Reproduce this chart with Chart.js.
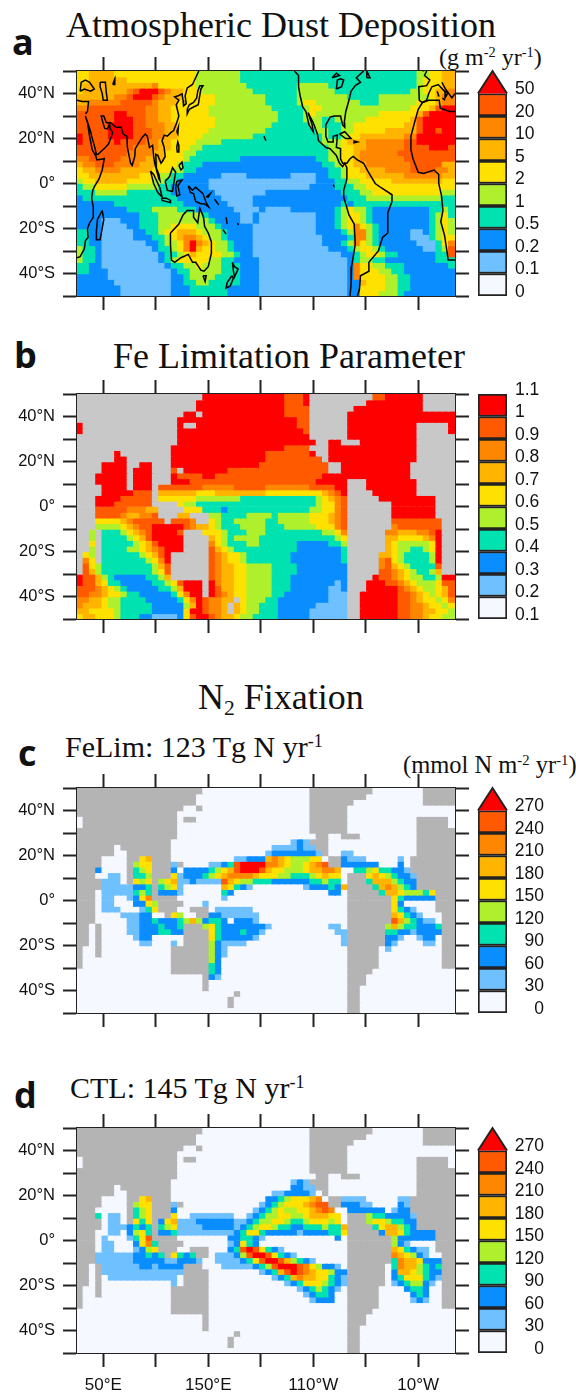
<!DOCTYPE html>
<html><head><meta charset="utf-8">
<style>
html,body{margin:0;padding:0;background:#fff;width:576px;height:1393px;overflow:hidden;position:relative}
canvas{position:absolute;display:block;filter:blur(.5px)}
.t{position:absolute;white-space:nowrap;line-height:1;font-family:"Liberation Serif",serif;color:#111}
.t sup{font-size:.6em;line-height:0;vertical-align:.55em}
.t sub{font-size:.6em;line-height:0;vertical-align:-.3em}
.p{position:absolute;line-height:1;font-family:"Open Sans",sans-serif;font-weight:700;color:#111}
</style>
<script src="https://cdn.jsdelivr.net/npm/chart.js@4/dist/chart.umd.min.js"></script>
</head><body>
<div class="p" style="left:12px;top:24px;font-size:36px">a</div>
<div class="t" style="left:66px;top:7px;font-size:36px">Atmospheric Dust Deposition</div>
<div class="t" style="left:439px;top:45px;font-size:24px">(g m<sup>-2</sup> yr<sup>-1</sup>)</div>
<div class="p" style="left:14px;top:337px;font-size:36px">b</div>
<div class="t" style="left:113px;top:338px;font-size:36px">Fe Limitation Parameter</div>
<div class="t" style="left:198px;top:679px;font-size:36px">N<sub>2</sub> Fixation</div>
<div class="p" style="left:18px;top:735px;font-size:36px">c</div>
<div class="t" style="left:65px;top:732px;font-size:30px">FeLim: 123 Tg N yr<sup>-1</sup></div>
<div class="t" style="left:403px;top:753px;font-size:24.5px">(mmol N m<sup>-2</sup> yr<sup>-1</sup>)</div>
<div class="p" style="left:14px;top:1077px;font-size:36px">d</div>
<div class="t" style="left:70px;top:1073px;font-size:30px">CTL: 145 Tg N yr<sup>-1</sup></div>

<canvas id="mapA" width="576" height="305" style="left:0;top:31px"></canvas>
<canvas id="mapB" width="576" height="305" style="left:0;top:354px"></canvas>
<canvas id="mapC" width="576" height="305" style="left:0;top:748px"></canvas>
<canvas id="mapD" width="576" height="305" style="left:0;top:1088px"></canvas>
<canvas id="barA" width="106" height="255" style="left:470px;top:51px"></canvas>
<canvas id="barB" width="106" height="255" style="left:470px;top:374px"></canvas>
<canvas id="barC" width="106" height="255" style="left:470px;top:768px"></canvas>
<canvas id="barD" width="106" height="255" style="left:470px;top:1108px"></canvas>
<script>
const levelColors=['#f5f8ff','#6ec0ff','#0a8eff','#00e2b0','#aef02c','#ffe100','#ffb400','#ff8700','#ff5a00','#ff0000'];
const landB='#c8c8c8', landN='#b4b4b4';
const lonTicks=[50,100,150,200,250,300,350];
const lonLabels={50:'50°E',150:'150°E',250:'110°W',350:'10°W'};
const latTicks=[-50,-40,-30,-20,-10,0,10,20,30,40,50];
const latLabels={40:'40°N',20:'20°N',0:'0°','-20':'20°S','-40':'40°S'};
const dustLabels=['0','0.1','0.2','0.5','1','2','5','10','20','50'];
const feLabels=['0.1','0.2','0.3','0.4','0.5','0.6','0.7','0.8','0.9','1','1.1'];
const fixLabels=['0','30','60','90','120','150','180','210','240','270'];

// class per grid cell (6 deg lon x 2.5 deg lat), north to south, starting 25E
const dustRows=[
"5566665555 5555555554 4444443333 3333333333 3333333333 3333445566",
"5566666655 5555555554 4444443333 3333333333 3333333333 3333455566",
"5666666666 6675555554 4444444333 3333344444 3333333333 3333455566",
"5666666678 9998766555 4444444433 3333344444 4333333333 3334455667",
"6666667789 9987666555 5544444444 3333344444 4443333344 4444445677",
"6677777888 8876665555 5544444444 3333345544 4444433344 4444555677",
"7788888888 8776655555 5444444444 4333334554 4444444444 4445556899",
"8888889988 8776655555 5444444444 4433334544 4444444455 5555689999",
"8888889998 8776655555 5544444444 4433334443 3444445555 5556899999",
"8888899998 8777665555 5544444444 4333333443 3344555555 5566899999",
"8888899998 8877665555 5444444444 3333333344 3344555556 6666899899",
"9888899998 8877665555 4444444433 3333333334 3345566666 6677999999",
"9888889888 8776655554 4443333333 3333333334 4456667777 7788999999",
"8888888887 7776655544 3333333333 3333333333 4455667777 7788889998",
"8888888877 7766555443 3333333333 3333333333 4455677777 7888888888",
"7788888777 7666555433 3333332222 2222222233 4455677777 7788888888",
"6778887777 6665554333 2222222222 2222222223 3455667777 7778888866",
"5667777666 6655544332 2222222222 2222222222 3345566667 7778888776",
"5566666666 5554433222 2221111222 2222111122 3345556666 6677777766",
"4556666655 5544332222 2111111111 1111111122 2334455555 6666666655",
"3445555544 4443322222 2111111111 1111111222 2333445555 5555555555",
"3334444433 3333322222 2211111111 2222222222 2233344555 5555555544",
"2333333333 3333332222 2221111122 2222222222 2223334444 4444444433",
"2222223333 3333333222 2222111122 2222222222 2232333333 3333333333",
"2222222233 3344443332 2222211112 1111222222 2345443222 2222223343",
"2222222222 3334444444 3222221121 1111111122 2345543222 2222223453",
"2222111222 3334444444 4322221121 1111111122 2345543222 2222223454",
"2222111122 3334455554 4432222211 1111111122 2345754322 2222223454",
"3322111112 2334556665 4443222211 1111111122 2234774322 2221123454",
"3322111112 2233456776 5443222211 1111111112 2223774322 2221113455",
"3322111111 1223445797 6544322211 1111111112 2234754322 2222111357",
"4332111111 1123345796 5544322211 1111111111 2223455432 2222211348",
"4332111111 1112334565 5554432211 1111111111 1122345543 3222222338",
"4332111111 1112345555 5443322221 1111111111 1112344332 2222222333",
"3322111111 1111233445 4443332221 1111111111 1112755443 3322222223",
"3322211111 1111123344 4443332221 1111111111 1112755544 3322222222",
"2222211111 1111122344 4433332221 1111111111 1112755554 4332222222",
"2222221111 1111122334 4333332221 1111111111 1112265554 4332222222",
"2222222111 1111122233 3333222221 1111111111 1112255554 4332222222",
"2222222111 1111122233 3333222221 1111111111 1112255544 4322222222"];

const feRows=[
"########## ########## 9999999999 999888 9### #######889 99999#####",
"########## #########9 9999999999 9998889### ######9999 99999#####",
"########## #########9 9999999999 9998888### ####999999 99999#####",
"########## #######99# 9999999999 9998888### ###9999999 9999999999",
"########## ######9999 9999999999 9999988### ###9999999 9999999999",
"9######### ######9##9 9999999999 9999988### ###9999999 9999#####9",
"9######### ######9999 9999999999 9999998### ###9999999 9999#####9",
"########## ######9999 9999999999 9999999### ###9999999 9999######",
"########## ######9999 9999999999 99999999## 99###99999 9999######",
"########## #####99999 9999999999 9998888### 9999999999 9999######",
"######9### #####99999 9999999999 88888889## 9999999999 9999######",
"######99## #####99999 9999999999 888888888# 9999999999 9999######",
"####9999## 99###99999 9999999998 8888888888 ##99999999 999#######",
"####9999#9 99###8#999 9999888888 8888888888 ##99999999 999#######",
"###99999#9 99###98888 9988888888 8888888889 9999999999 999#######",
"###99999#9 99###99988 8888888888 8888888899 999###9999 9999######",
"####9999#9 99#8888888 7777788888 7777777888 899###9999 9999######",
"####999998 88#6666665 5566666666 5555555556 789####999 9999######",
"###9999888 88#5555554 4444443333 3333333345 678#####99 9999999###",
"###9998888 88####5443 3333333333 3333333345 578####### 9999999###",
"###8888877 766####555 3332333333 3333333445 578####### 9999999###",
"###8888766 778###66## #443333444 4344444555 678####### 9999999###",
"###5555678 8888#8887# #543344444 3344444555 678####### 88888888##",
"###4444567 8899999876 6543334444 3334444455 578####### 7888888 8##",
"##4#333456 789999 8### 5554333444 3333333334 457######7 76667789##",
"##4#333345 6899999### #654344443 3333333333 345######6 65555679##",
"##5#333334 5689999### #754333443 3333322222 334######6 54444459##",
"##4#333344 5678999### #865433333 3333322222 223######6 54433459##",
"#54#333333 45689##### #876554333 3333222222 223#####66 54333349##",
"#75#333333 34579##### #876554333 3333222222 223#####78 54333349##",
"#854333333 33468##### #876655444 4333322222 222#####78 65433338##",
"#864333333 33458##### #876655444 4333322222 222#####88 76543346##",
"9886432222 23346##### #876655444 4333222222 222####988 7654433499",
"9886533222 2233458999 #976655444 4333222222 212###9998 8765444588",
"8887654322 2223346999 #986655444 4333222222 112###9999 9876544568",
"8877655433 2222235799 #987655444 4332222222 111##99999 9887654568",
"7766544333 3222223579 87766#5444 3322222222 111##99999 9887655457",
"7666544333 3322222469 8776#65443 3322222211 111##99999 9887765545",
"6655554333 3322222599 8776#65443 3322222111 111##99999 9887766554",
"5665554333 2211112589 9876654433 3322222111 111##99999 9887765544"];

const fixRows=[
"","","","","","","","","",
"0000000000 0000000000 0000000000 0000121100",
"0000000000 0000000000 0000000000 0111121110",
"0000000000 0000000000 0000000000 1222222210 0011000000",
"0000000000 5600000000 0000011222 6765444550 0021110000 0100000000",
"0000000004 5500110000 0112389999 7765445678 0022222200 0200000000",
"0002000003 4500120222 2345689998 6554445667 7600334533 2210000000",
"0000011003 3400351222 3456777765 5544333456 5500035654 3221000000",
"0000111005 4504561121 1118654433 3222222334 3300003666 4322000000",
"0000111112 2323451000 0006532100 0000001222 3260000367 6432210000",
"0000111113 4322221000 0003200000 0000000000 2200000036 6544435600",
"0000110012 5752000000 0001000000 0000000000 0000000004 5322222200",
"0000110002 2540000000 1000000000 0000000000 0000000000 5200000000",
"0000111000 1350000000 0011111100 0000000000 0000000000 5321000000",
"0000000111 2200054000 1221111110 0000000000 0000000000 6532100000",
"0000000011 2232223464 2332022210 0000000000 0000000000 8643211000",
"0000000011 2223223433 4532222222 1000000000 1100000004 6433222300",
"0000000011 2223322000 5532223221 0000000000 0110000003 3221222200",
"0000000001 2200000000 4532222210 0000000000 0010000002 2100122000",
"0000000000 1100010000 0421111000 0000000000 0010000002 1000011000",
"0000000000 0000000000 0421000000 0000000000 0000000001",
"0000000000 0000000000 0421000000",
"0000000000 0000000000 0420000000",
"0000000000 0000000000 0320000000",
"0000000000 0000000000 2320000000",
"0000000000 0000000000 0210000000",
"","","","","",""];

const ctlRows=[
"","","","","","","","","",
"0000000000 0000000000 0000000000 0000121100",
"0000000000 0000000000 0000000000 0000221110",
"0000000000 0000000000 0000000000 0112222100",
"0000000000 5600000000 0000000000 2234555670 0011110000 0110000000",
"0000000004 5500110000 0000000001 2345556788 0022211000 0210000000",
"0000000003 4500120000 0000000012 3454455678 7002222220 1221000000",
"0003011003 4500350011 1111100123 4455445666 5500004332 2221000000",
"0000011005 3502561112 2222211234 4554334555 4500004554 3322000000",
"0000011123 2323451111 2222212345 5433223334 3360000356 6432200000",
"0000011024 5322231111 1111123553 2222212222 3350000026 6532222300",
"0000100013 5840000000 0000223321 0000000000 0200000005 4222222200",
"0000110002 5730000000 0000125320 0000000000 0000000000 4210000000",
"0000110001 2452000000 0000238985 3210000000 0000000000 6532110000",
"0001111112 2323253230 0011124899 8532100000 0000000000 7654210000",
"0001111112 2222112221 0011112358 9986432100 0000000003 3766522200",
"0001111111 2212222100 0001111123 4899987542 2100000000 3766432300",
"0000111111 1111111100 0000000001 2368987655 4220000000 2665432200",
"0000011111 1111110000 0000000000 0123676655 3210000000 2355532100",
"0000000000 0000010000 0000000000 0001235554 3210000000 1234421000",
"0000000000 0000000000 0000000000 0000012343 2100000000 0023320000",
"0000000000 0000000000 0000000000 0000001233 2000000000 0002320000",
"0000000000 0000000000 0000000000 0000000122 2000000000 0001210000",
"","","","","","","","",""];

// coastlines as [lon (deg E, continuing past 360), lat]
const coastAsia=[[25,-33],[28,-32.5],[32,-29],[33,-25.5],[35.5,-24],[35,-20],[37,-17.5],[40.5,-15],[40.5,-10.5],[39,-6.5],[40,-3],[42,-1],[46,2],[49,6],[51,11],[44,10.5],[43,12],[39.5,15],[37,21],[35,27],[33,30],[34.5,28],[38,23],[39,21],[42,16],[43.5,12.8],[45,13],[52,16],[55,17.5],[59,22.5],[56.5,24.5],[56,26.5],[54,24.3],[51.5,24.5],[50,26.5],[48,30],[50.5,30],[53,27],[57,27],[62,25],[67,25],[69,22],[72.5,21],[73,16],[76,9],[77.5,8],[80,12],[80.5,15.5],[87,20.5],[90,22],[92,21],[94,16],[97,17],[98,12],[99,9],[103,2],[104,1.3],[103,4],[100.5,7],[100,13],[102,12.5],[105,9],[106.5,10],[109,12],[108,16],[106,19],[108,21.5],[111,21],[114,22.5],[117,23.5],[120,27],[122,30],[119.5,35],[122,37],[118,38.5],[121.5,39],[125,39.8],[126,37],[126.5,34.5],[129,35.5],[128,39],[130,42.5],[135,44],[140,49],[141,50]];
const coastAustralia=[[114,-22],[122,-18],[126,-14],[130,-12],[136,-12],[136,-15],[140,-17.5],[142,-11],[145.5,-15],[146.5,-19],[150,-22],[153,-26],[153,-31],[150,-37],[146,-39],[143,-38.5],[138,-35],[135,-35],[131,-31.5],[124,-33],[118,-35],[115,-34],[114,-27],[114,-22]];
const coastAmericaWest=[[232,50],[236,48],[236,43],[237.5,39],[240,34],[243,32],[246,26],[250,23],[249,26],[245,31.5],[250,27],[254,22],[255,19],[262,16],[266,15.5],[272,12.5],[275,9],[278,7.5],[280,9],[282,7],[282,2],[279,-3],[279,-6],[284,-14],[289,-18],[290,-27],[286.5,-37],[286,-45],[285,-50]];
const coastAmericaEast=[[298,50],[291,47],[295,45],[290,43.5],[286,41],[284,37],[281,32],[279.5,27],[280,25],[278,26],[277,28],[276,30],[270,30],[266,29.5],[262,26],[262,21],[264,18.5],[269,18.5],[269,21],[273,21.5],[272,16],[276,15.5],[276,11],[278,9],[282,9],[285,11],[288,12],[292,10.5],[298,9],[302,5.5],[309,0],[315,-2],[325,-5],[325,-8],[321,-13],[321,-22],[316,-24],[312,-30],[303,-35],[303,-39],[295,-41],[294,-47],[292,-50]];
const coastAfricaWest=[[354,36],[350,33],[347,28],[343,21],[343,15],[345,11],[350,5],[355,4.5],[365,6],[369.5,4],[369.5,0],[372,-5],[373.5,-12],[371.5,-17],[375,-23],[377,-29],[378.5,-34],[385,-34]];
const coastMedAfrica=[[354,36],[360,37],[370,37],[371,33.5],[380,32],[385,32]];
const coastEurope=[[358,50],[356,48],[361,46],[358,43.5],[350.5,43],[351,37],[354,36],[358,37],[360,40],[363,43],[369,44],[376,40.5],[375.5,38],[378,40],[372.5,45],[376,42],[382,38],[385,40]];
const coastIslands=[
[[28,41],[29,45],[33,46],[37,45],[41.5,42],[38,41],[32,42],[28,41]],
[[25,37],[30,36.5],[36,36.5],[35,32],[33,31]],
[[47,45],[52,45],[53,40],[54,37],[50,37],[49,40],[47,43],[47,45]],
[[59,44],[61,46.5],[61,44],[59,44]],
[[130,33],[132,35],[136,36],[139,38],[140,41],[142,43.5],[145,43.5],[143,42],[141.5,38],[140.5,35],[136,34],[132,33],[130,31],[130,33]],
[[120,23],[121.5,25],[121,22],[120,23]],
[[120,16],[121,18.5],[122,17],[122,14],[120.5,14],[120,16]],
[[122,8],[125,9.5],[126,7],[124,6],[122,8]],
[[109,1],[113,3],[116,7],[119,5],[117.5,1],[116,-3.5],[111,-3],[109,1]],
[[95,5.5],[98,4],[104,-2],[106,-6],[102,-4],[98,0],[95,5.5]],
[[105.5,-6.5],[110,-6.5],[114,-7.5],[114,-8.5],[106,-7.5],[105.5,-6.5]],
[[120,1],[125,1.5],[121,-1],[123,-5],[120,-5.5],[119,-2],[120,1]],
[[131,-1],[135,-3],[138,-1.7],[145,-4.5],[148,-8.5],[150.5,-10.5],[146,-9],[143,-9],[138,-8],[136,-4.5],[133,-4],[131,-1]],
[[148,-6],[152,-4.5],[150,-6],[148,-6]],
[[156,-7],[160,-9.5]],
[[167,-15],[168,-18]],
[[164,-20.5],[167,-22.5]],
[[178,-17.5],[178.5,-18.5]],
[[173,-35],[175,-37],[178.5,-38],[175,-41.5],[174,-39],[173,-35]],
[[172.5,-41],[174,-42],[171,-45.5],[167,-46.5],[168,-44],[172.5,-41]],
[[145,-41],[148,-41],[147,-43.5],[145,-41]],
[[49,-12],[50.5,-16],[47,-25],[44,-25],[43.5,-21],[44.5,-16],[49,-12]],
[[203,21],[205,19]],
[[269,-0.5],[269.5,-0.9]],
[[272,42],[273,46],[276,46.5],[279,46],[277,43],[272,42]],
[[268,47],[272,49],[275,48],[268,47]],
[[275,22],[280,23],[286,20],[281,20],[275,22]],
[[288,19],[292,18.5],[288,18]],
[[301,47],[304,47],[301,50],[301,47]],
[[354,50],[359,51]],
[[368,41],[369.5,39],[368.5,39]],
[[373,38],[375.5,37],[373,38]]
];

const AXIS='#222';
const parseRow=r=>r.replace(/\s/g,'').padEnd(60,'0').slice(0,60).split('');
function classColor(ch,land){return ch==='#'?land:levelColors[+ch];}
const lonCenters=Array.from({length:60},(_,i)=>String(28+6*i));

function axisBase(){return{
  grid:{drawOnChartArea:false,drawTicks:true,tickLength:14,tickWidth:2,tickColor:AXIS,offset:false},
  border:{display:true,color:AXIS,width:2},z:1,offset:false};}
const tickFont={family:'"Liberation Sans",Arial,sans-serif',size:16.5};
const barFont={family:'"Liberation Sans",Arial,sans-serif',size:17.5};

function makeMap(id,cells,land,lines,showLonLabels){
  const datasets=[];
  cells.forEach((row,j)=>{
    const top=50-2.5*j;
    datasets.push({type:'bar',xAxisID:'xc',yAxisID:'y',order:2,grouped:false,
      barPercentage:1,categoryPercentage:1,borderWidth:0,inflateAmount:0.7,
      data:row.map(()=>[top-2.5,top]),backgroundColor:row.map(c=>classColor(c,land))});
  });
  lines.forEach(l=>datasets.push({type:'scatter',xAxisID:'lon',yAxisID:'y',order:0,showLine:true,
    pointRadius:0,borderColor:'#000',borderWidth:1.5,fill:false,tension:0,
    data:l.map(p=>({x:p[0],y:p[1]}))}));
  new Chart(document.getElementById(id),{type:'bar',data:{labels:lonCenters,datasets},options:{
    responsive:false,animation:false,events:[],
    layout:{padding:0},
    plugins:{legend:{display:false},tooltip:{enabled:false},title:{display:false}},
    scales:{
      xc:{type:'category',axis:'x',display:false,offset:true,grid:{offset:true}},
      lon:Object.assign(axisBase(),{type:'linear',axis:'x',position:'bottom',min:25,max:385,
        afterBuildTicks:s=>{s.ticks=lonTicks.map(v=>({value:v}));},
        afterFit:s=>{s.height=40;s.paddingLeft=0;s.paddingRight=0;},
        ticks:{display:showLonLabels,autoSkip:false,maxRotation:0,padding:8,color:'#111',font:{family:tickFont.family,size:17},
          callback:v=>lonLabels[v]||''}}),
      lonTop:Object.assign(axisBase(),{type:'linear',axis:'x',position:'top',min:25,max:385,
        afterBuildTicks:s=>{s.ticks=lonTicks.map(v=>({value:v}));},
        afterFit:s=>{s.height=40;},ticks:{display:false}}),
      y:Object.assign(axisBase(),{type:'linear',axis:'y',position:'left',min:-50,max:50,
        afterBuildTicks:s=>{s.ticks=latTicks.map(v=>({value:v}));},
        afterFit:s=>{s.width=77;s.paddingTop=0;s.paddingBottom=0;},
        ticks:{autoSkip:false,padding:8,color:'#111',font:tickFont,callback:v=>latLabels[v]||''}}),
      yr:Object.assign(axisBase(),{type:'linear',axis:'y',position:'right',min:-50,max:50,
        afterBuildTicks:s=>{s.ticks=latTicks.map(v=>({value:v}));},
        afterFit:s=>{s.width=121;},ticks:{display:false}})
    }}});
}
function makeBar(id,labels,triangle,rightAlign){
  const datasets=[];
  const n=triangle?9:10;
  for(let i=0;i<n;i++){
    datasets.push({type:'bar',xAxisID:'xb',yAxisID:'y',grouped:false,order:1,
      barPercentage:1,categoryPercentage:1,data:[[i,i+1]],backgroundColor:levelColors[i],
      borderColor:AXIS,borderWidth:2,borderSkipped:false});
  }
  if(triangle){
    datasets.push({type:'scatter',xAxisID:'xt',yAxisID:'y',order:0,showLine:true,pointRadius:0,
      clip:false,tension:0,backgroundColor:levelColors[9],borderColor:AXIS,borderWidth:2,fill:{value:9},
      data:[{x:0,y:9},{x:0.5,y:10},{x:1,y:9}]});
  }
  const axisW=rightAlign?37:69;
  new Chart(document.getElementById(id),{type:'bar',data:{labels:[''],datasets},options:{
    responsive:false,animation:false,events:[],
    layout:{padding:{left:8,top:20,bottom:10,right:69-axisW}},
    plugins:{legend:{display:false},tooltip:{enabled:false}},
    scales:{
      xb:{type:'category',axis:'x',display:false,offset:true},
      xt:{type:'linear',axis:'x',display:false,min:0,max:1,offset:false},
      y:{type:'linear',axis:'y',display:false,min:0,max:10},
      yl:{type:'linear',axis:'y',position:'right',min:-0.18,max:9.82,
        afterBuildTicks:s=>{s.ticks=labels.map((_,i)=>({value:i}));},
        afterFit:s=>{s.width=axisW;s.paddingTop=0;s.paddingBottom=0;},
        grid:{display:false,drawTicks:false},border:{display:false},
        ticks:{autoSkip:false,padding:8,color:'#111',crossAlign:rightAlign?'far':'near',font:barFont,
          callback:v=>labels[v]}}
    }}});
}
const dustCells=dustRows.map(parseRow), feCells=feRows.map(parseRow);
const landOver=(rows)=>rows.map(parseRow).map((row,j)=>row.map((c,i)=>feCells[j][i]==='#'?'#':c));
makeMap('mapA',dustCells,landB,[coastAsia,coastAustralia,coastAmericaWest,coastAmericaEast,coastAfricaWest,coastMedAfrica,coastEurope,...coastIslands],false);
makeMap('mapB',feCells,landB,[],false);
makeMap('mapC',landOver(fixRows),landN,[],false);
makeMap('mapD',landOver(ctlRows),landN,[],true);
makeBar('barA',dustLabels,true,false);
makeBar('barB',feLabels,false,false);
makeBar('barC',fixLabels,true,true);
makeBar('barD',fixLabels,true,true);
</script>
</body></html>
